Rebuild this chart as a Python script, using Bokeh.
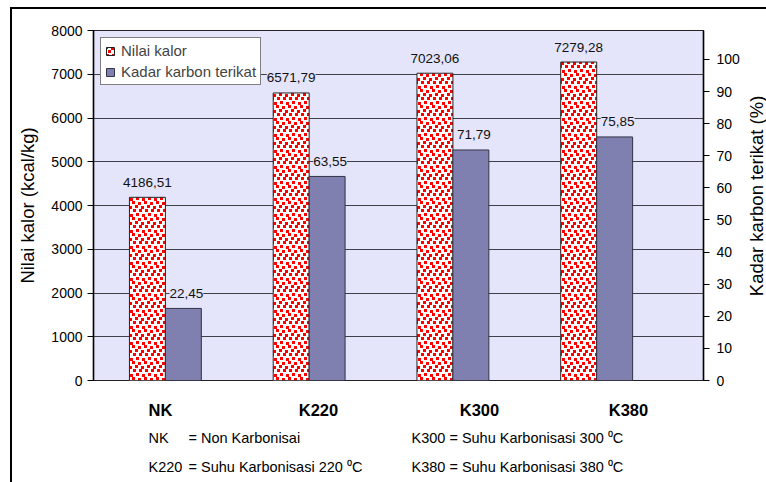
import base64
import math
import struct
import zlib

import numpy as np
from bokeh.core.properties import value
from bokeh.embed import file_html
from bokeh.layouts import column, row
from bokeh.models import (ColumnDataSource, FixedTicker, ImageURLTexture, LabelSet, Legend,
                          LegendItem, LinearAxis, Range1d)
from bokeh.plotting import figure
from bokeh.resources import INLINE

# ---- data -------------------------------------------------------------
categories = ["NK", "K220", "K300", "K380"]
nilai_kalor = [4186.51, 6571.79, 7023.06, 7279.28]      # kcal/kg
kadar_karbon = [22.45, 63.55, 71.79, 75.85]            # %
kalor_ticks = [0, 1000, 2000, 3000, 4000, 5000, 6000, 7000, 8000]
karbon_ticks = [0, 10, 20, 30, 40, 50, 60, 70, 80, 90, 100]
note_rows = [
    ("NK", "= Non Karbonisai", "K300 = Suhu Karbonisasi 300 \u2070C"),
    ("K220", "= Suhu Karbonisasi 220 \u2070C", "K380 = Suhu Karbonisasi 380 \u2070C"),
]

FONT = "Liberation Sans"
PLOT_BG = "#E4E4FA"
BLUE = "#8080B0"

# ---- page geometry (canvas pixels) ------------------------------------
W, H = 766, 482
OX, OY = 12, 9                      # inside edge of the chart-area border
FRAME_L, FRAME_R, FRAME_T, FRAME_B = 93, 704, 30, 380
LABEL_W = 24                        # strip holding the right axis title
P_W = W - OX - LABEL_W
P_H = FRAME_B - OY + 12
NOTES_H = H - OY - P_H
SLOT_PX = 144                       # width of one category slot
KALOR_MAX = 8000
KARBON_MAX = 109.0


def png_data_url(w, h, squares, fg, bg):
    """Tiny RGB PNG tile with filled squares (x, y, size) on a background."""
    px = [[bg for _ in range(w)] for _ in range(h)]
    for sx, sy, s in squares:
        for dy in range(s):
            for dx in range(s):
                px[(sy + dy) % h][(sx + dx) % w] = fg
    raw = b"".join(b"\x00" + bytes(c for p_ in r for c in p_) for r in px)

    def chunk(tag, data):
        return (struct.pack(">I", len(data)) + tag + data
                + struct.pack(">I", zlib.crc32(tag + data) & 0xFFFFFFFF))

    png = (b"\x89PNG\r\n\x1a\n"
           + chunk(b"IHDR", struct.pack(">IIBBBBB", w, h, 8, 2, 0, 0, 0))
           + chunk(b"IDAT", zlib.compress(raw))
           + chunk(b"IEND", b""))
    return "data:image/png;base64," + base64.b64encode(png).decode()


# confetti fill: small red squares scattered on white
confetti_url = png_data_url(
    12, 16,
    [(0, 0, 3), (6, 1, 3), (3, 4, 3), (9, 5, 3), (1, 8, 3), (7, 8, 3), (4, 12, 3), (10, 13, 3)],
    (255, 0, 0), (255, 255, 255),
)

# ---- main chart -------------------------------------------------------
frame_w = FRAME_R - FRAME_L
x_end = frame_w / SLOT_PX
centers = np.arange(len(categories)) + 0.5
bar_w = 0.25

src = ColumnDataSource(data=dict(
    cat=categories,
    x_red=centers - bar_w / 2,
    x_blue=centers + bar_w / 2,
    kalor=nilai_kalor,
    karbon=kadar_karbon,
    kalor_txt=[f"{v:.2f}".replace(".", ",") for v in nilai_kalor],
    karbon_txt=[f"{v:.2f}".replace(".", ",") for v in kadar_karbon],
))

p = figure(width=P_W, height=P_H, output_backend="svg", toolbar_location=None,
           x_range=Range1d(0, x_end), y_range=Range1d(0, KALOR_MAX),
           x_axis_location=None,
           min_border_left=FRAME_L - OX, min_border_right=P_W - (FRAME_R - OX),
           min_border_top=FRAME_T - OY, min_border_bottom=P_H - (FRAME_B - OY),
           background_fill_color=PLOT_BG, border_fill_color="white")
p.extra_y_ranges = {"pct": Range1d(0, KARBON_MAX)}

p.outline_line_color = "#222222"
p.outline_line_width = 1.2
p.xgrid.visible = False
p.ygrid.ticker = FixedTicker(ticks=kalor_ticks)
p.ygrid.grid_line_color = "#404048"
p.ygrid.grid_line_width = 1

ly = p.yaxis[0]
ly.ticker = FixedTicker(ticks=kalor_ticks)
ly.axis_label = "Nilai kalor (kcal/kg)"

ry = LinearAxis(y_range_name="pct", ticker=FixedTicker(ticks=karbon_ticks))
p.add_layout(ry, "right")

for ax, standoff in ((ly, 5), (ry, 7)):
    ax.axis_line_color = "black"
    ax.axis_line_width = 1.5
    ax.major_tick_line_color = "black"
    ax.major_tick_in = 0
    ax.major_tick_out = 6
    ax.minor_tick_line_color = None
    ax.major_label_standoff = standoff
    ax.major_label_text_font = FONT
    ax.major_label_text_font_size = "14px"
    ax.major_label_text_color = "black"
ly.axis_label_standoff = 10
ly.axis_label_text_font = FONT
ly.axis_label_text_font_size = "18.5px"
ly.axis_label_text_font_style = "normal"
ly.axis_label_text_color = "black"

r_kalor = p.vbar(x="x_red", top="kalor", width=bar_w, source=src,
                 fill_color="white", line_color="#222222", line_width=1,
                 hatch_pattern=value("confetti"),
                 hatch_extra={"confetti": ImageURLTexture(url=confetti_url)})
r_karbon = p.vbar(x="x_blue", top="karbon", width=bar_w, source=src, y_range_name="pct",
                  fill_color=BLUE, line_color="#333344", line_width=1)

# value labels above the bars
label_style = dict(text_align="center", text_baseline="middle", text_font=value(FONT),
                   text_font_size="13.5px", text_color="#111111",
                   background_fill_color=PLOT_BG, y_offset=15)
p.add_layout(LabelSet(x="x_red", y="kalor", text="kalor_txt", source=src, **label_style))
p.add_layout(LabelSet(x="x_blue", y="karbon", text="karbon_txt", source=src,
                      y_range_name="pct", x_offset=3, **label_style))

legend = Legend(items=[LegendItem(label="Nilai kalor", renderers=[r_kalor]),
                       LegendItem(label="Kadar karbon terikat", renderers=[r_karbon])],
                location="top_left", margin=7, padding=4, spacing=4,
                glyph_width=10, glyph_height=10, label_height=17, label_standoff=6,
                label_text_font=FONT, label_text_font_size="15px",
                border_line_color="black", border_line_width=1,
                background_fill_color="white", background_fill_alpha=1)
p.add_layout(legend)


def strip(width, height):
    """Blank svg figure whose data space is its own pixel grid."""
    f = figure(width=width, height=height, output_backend="svg", toolbar_location=None,
               x_range=Range1d(0, width), y_range=Range1d(0, height),
               x_axis_location=None, y_axis_location=None, min_border=0,
               background_fill_color="white", border_fill_color="white")
    f.outline_line_color = None
    f.grid.visible = False
    return f


# ---- right axis title (reads bottom to top) ---------------------------
rlab = strip(LABEL_W, P_H)
rlab.text(x=[756 - (OX + P_W)], y=[P_H - (190 - OY)], text=["Kadar karbon terikat (%)"],
          angle=math.pi / 2, text_align="center", text_baseline="middle",
          text_font=value(FONT), text_font_size=value("18.5px"), text_color="black")

# ---- category names and notes under the chart -------------------------
notes = strip(W - OX, NOTES_H)
cat_label_px = [160, 318, 479, 628]
notes.text(x=[cx - OX for cx in cat_label_px], y=[H - 409] * len(categories), text=categories,
           text_align="center", text_baseline="middle", text_font=value(FONT),
           text_font_size=value("16.5px"), text_font_style="bold", text_color="black")

note_row_py = [437, 466]
note_col_px = [148, 188, 411]
nx, ny, nt = [], [], []
for texts, cy in zip(note_rows, note_row_py):
    for cx, t in zip(note_col_px, texts):
        nx.append(cx - OX)
        ny.append(H - cy)
        nt.append(t)
notes.text(x=nx, y=ny, text=nt, text_align="left", text_baseline="middle",
           text_font=value(FONT), text_font_size=value("14.5px"), text_color="black")

# chart area with a black border on its visible left and top edges
page = column(row(p, rlab, spacing=0), notes, spacing=0,
              styles={"margin-left": "10px", "margin-top": "7px",
                      "border-left": "2px solid black", "border-top": "2px solid black"})

open("out.html", "w").write(file_html(page, INLINE))
